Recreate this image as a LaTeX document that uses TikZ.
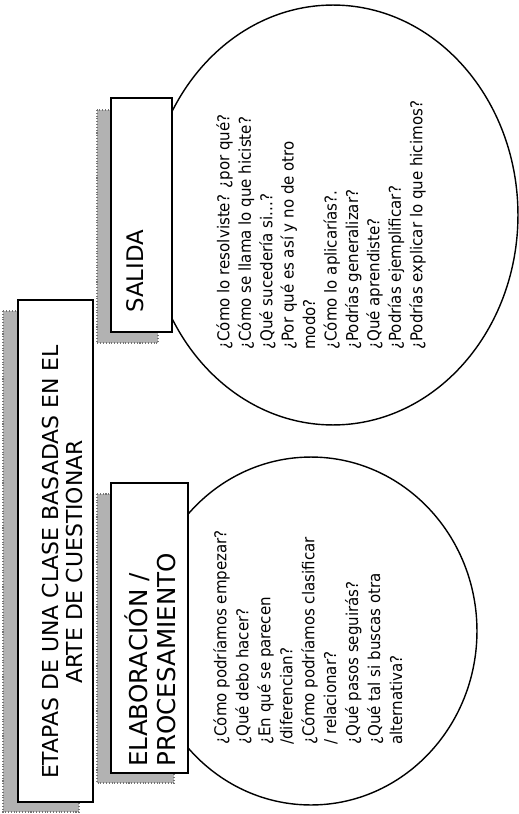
\documentclass[tikz,border=0pt]{standalone}
\usepackage{fontspec}
\setmainfont{DejaVu Sans}
\newfontfamily\preguntafont[FakeStretch=0.92]{DejaVu Sans}
\usetikzlibrary{shapes.geometric}
\tikzset{
    caja/.style={draw, line width=0.8pt, fill=white, inner sep=0pt},
    sombra/.style={fill=black!30, draw=black!55, densely dotted, line width=0.6pt},
    globo/.style={draw, ellipse, line width=0.8pt, inner sep=0pt},
    texto/.style={rotate=90, inner sep=0pt, align=left},
    pregunta/.style={texto, anchor=north west, font=\preguntafont\fontsize{9.3}{12.2}\selectfont}
}
\begin{document}
\begin{tikzpicture}[x=0.02cm, y=-0.02cm]
        \useasboundingbox (0,0) rectangle (519,814);
        \node[globo, minimum width=7.4cm, minimum height=8.4cm] (globoS) at (333,215) {};
        \node[globo, minimum width=6.64cm, minimum height=6.96cm] (globoE) at (311,631) {};
        \filldraw[sombra] (3,311) rectangle (79,812);
        \filldraw[sombra] (97,110) rectangle (158,343);
        \filldraw[sombra] (97,494) rectangle (174,783);
        \node[caja, minimum width=1.5cm, minimum height=10.04cm] (titulo) at (55.5,551) {};
        \node[caja, minimum width=1.22cm, minimum height=4.68cm] (salida) at (141.5,215) {};
        \node[caja, minimum width=1.54cm, minimum height=5.8cm] (elaboracion) at (149.5,628) {};
        \node[texto, align=center, font=\fontsize{12.5}{14.2}\selectfont] (tituloTxt) at (62.5,562)
            {ETAPAS DE UNA CLASE BASADAS EN EL\\ARTE DE CUESTIONAR};
        \node[texto, anchor=west, font=\fontsize{13}{15}\selectfont] (salidaTxt) at (135,313) {SALIDA};
        \node[texto, anchor=west, font=\fontsize{14}{16}\selectfont] (elaboracionTxt) at (150,767)
            {ELABORACIÓN /\\PROCESAMIENTO};
        \node[pregunta] (preguntasS) at (216,350)
            {¿Cómo lo resolviste? ¿por qué?\\
             ¿Cómo se llama lo que hiciste?\\
             ¿Qué sucedería si...?\\
             ¿Por qué es así y no de otro\\
             modo?\\
             ¿Cómo lo aplicarías?.\\
             ¿Podrías generalizar?\\
             ¿Qué aprendiste?\\
             ¿Podrías ejemplificar?\\
             ¿Podrías explicar lo que hicimos?};
        \node[pregunta, font=\preguntafont\fontsize{9.3}{12.5}\selectfont] (preguntasE) at (213,745)
            {¿Cómo podríamos empezar?\\
             ¿Qué debo hacer?\\
             ¿En qué se parecen\\
             /diferencian?\\
             ¿Cómo podríamos clasificar\\
             / relacionar?\\
             ¿Qué pasos seguirás?\\
             ¿Qué tal si buscas otra\\
             alternativa?};
    \end{tikzpicture}
\end{document}
